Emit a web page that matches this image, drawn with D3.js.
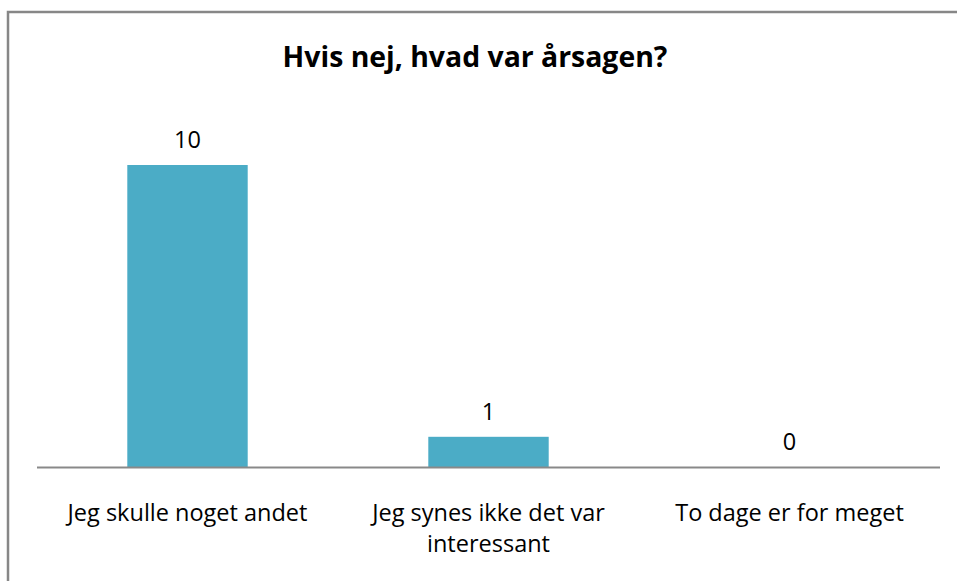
<!DOCTYPE html>
<html><head><meta charset="utf-8">
<script src="https://cdn.jsdelivr.net/npm/d3@7"></script>
<style>html,body{margin:0;background:#fff;overflow:hidden}svg{display:block}</style>
</head><body><svg id="c" width="957" height="581"></svg>
<script>
const categories = ["Jeg skulle noget andet", "Jeg synes ikke det var interessant", "To dage er for meget"];
const categoryLines = [["Jeg skulle noget andet"], ["Jeg synes ikke det var", "interessant"], ["To dage er for meget"]];
const values = [10, 1, 0];
const title = "Hvis nej, hvad var årsagen?";

const svg = d3.select("#c");
const font = "'Open Sans', Lato, sans-serif";
// outer border (only top and left visible)
svg.append("path").attr("d", "M8,600V12H1000")
  .attr("fill", "none").attr("stroke", "#878787").attr("stroke-width", 2.5);

function fit(text, weight, target) {
  const t = svg.append("text").attr("font-family", font).attr("font-weight", weight).attr("font-size", 20).text(text);
  const w = t.node().getComputedTextLength();
  t.remove();
  return 20 * target / w;
}
const titleSize = fit(title, "bold", 385);
const labelSize = fit(categoryLines[0][0], "normal", 240);

const x = d3.scaleBand().domain(categories).range([37, 940]).paddingInner(0.6).paddingOuter(0.3);
const y = d3.scaleLinear().domain([0, 10]).range([467, 165]);

svg.append("text").attr("x", 475).attr("y", 67).attr("text-anchor", "middle")
  .attr("font-family", font).attr("font-weight", "bold").attr("font-size", titleSize).text(title);

svg.selectAll("rect.bar").data(values).join("rect").attr("class", "bar")
  .attr("x", (d, i) => x(categories[i])).attr("width", x.bandwidth())
  .attr("y", d => y(d)).attr("height", d => y(0) - y(d)).attr("fill", "#4BACC6");

svg.append("line").attr("x1", 37).attr("x2", 940).attr("y1", 467.5).attr("y2", 467.5)
  .attr("stroke", "#898989").attr("stroke-width", 2);

svg.selectAll("text.val").data(values).join("text").attr("class", "val")
  .attr("x", (d, i) => x(categories[i]) + x.bandwidth() / 2).attr("y", d => y(d) - 17)
  .attr("text-anchor", "middle").attr("font-family", font).attr("font-size", labelSize).text(d => d);

categoryLines.forEach((lines, i) => {
  const cx = x(categories[i]) + x.bandwidth() / 2;
  const t = svg.append("text").attr("text-anchor", "middle").attr("font-family", font).attr("font-size", labelSize)
    .attr("x", cx).attr("y", 521);
  lines.forEach((l, j) => t.append("tspan").attr("x", cx).attr("dy", j ? 31 : 0).text(l));
});
</script></body></html>
